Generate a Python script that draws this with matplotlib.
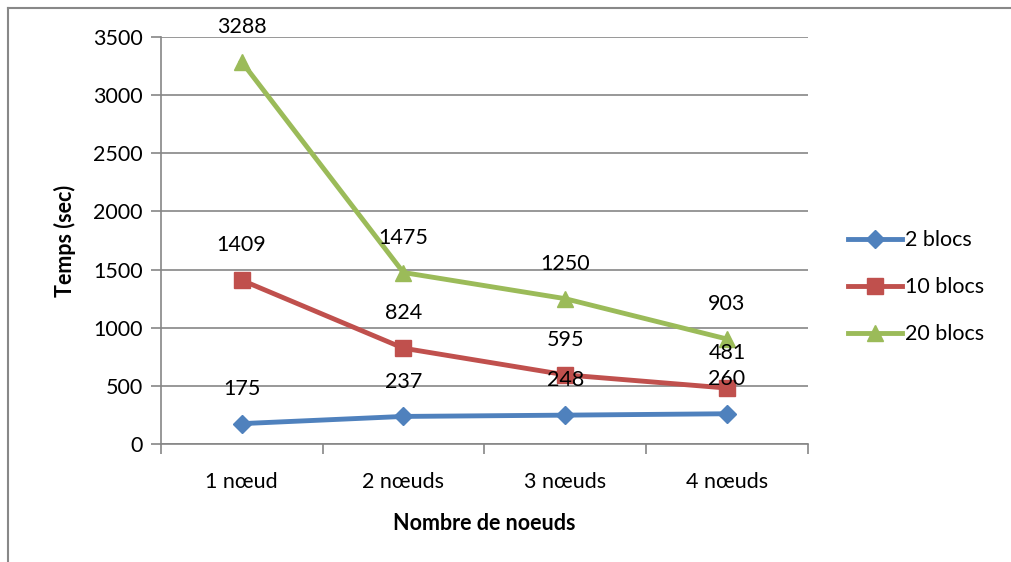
import matplotlib.pyplot as plt
from matplotlib.lines import Line2D
import numpy as np

plt.rcParams['font.family'] = ['Lato', 'DejaVu Sans']

# temps d'execution par nombre de noeuds
noeuds = ['1 nœud', '2 nœuds', '3 nœuds', '4 nœuds']
blocs_2 = [175, 237, 248, 260]
blocs_10 = [1409, 824, 595, 481]
blocs_20 = [3288, 1475, 1250, 903]
series = ['2 blocs', '10 blocs', '20 blocs']

colors = ['#4F81BD', '#C0504D', '#9BBB59']
markers = ['D', 's', '^']
msizes = [9, 11, 11]
fs = 15.5

fig = plt.figure(figsize=(10.11, 5.62), dpi=100)
ax = fig.add_axes([0.159, 0.210, 0.640, 0.724])

x = np.arange(len(noeuds))
for vals, lab, c, m, ms in zip([blocs_2, blocs_10, blocs_20], series, colors, markers, msizes):
    ax.plot(x, vals, color=c, lw=3.5, marker=m, markersize=ms, label=lab, zorder=3)
    for xi, v in zip(x, vals):
        ax.annotate(str(v), (xi, v), xytext=(0, 25), textcoords='offset points',
                    ha='center', va='center', fontsize=fs, zorder=4)

ax.set_xlim(-0.5, len(noeuds) - 0.5)
ax.set_ylim(0, 3500)
ax.set_yticks(np.arange(0, 3501, 500))
ax.set_xticks(x)
ax.set_xticklabels(noeuds)
ax.set_xticks(np.arange(-0.5, len(noeuds)), minor=True)
ax.tick_params(axis='x', which='major', length=0, pad=20, labelsize=fs)
ax.tick_params(axis='x', which='minor', length=7, width=1.2, color='#868686', direction='out')
ax.tick_params(axis='y', length=7, width=1.2, color='#868686', direction='out', labelsize=fs, pad=6)

ax.grid(axis='y', color='#868686', lw=1.2, zorder=0)
for s in ['top', 'right']:
    ax.spines[s].set_visible(False)
for s in ['left', 'bottom']:
    ax.spines[s].set_color('#868686')
    ax.spines[s].set_linewidth(1.2)

ax.set_xlabel('Nombre de noeuds', fontsize=fs, fontweight='bold', labelpad=15)
ax.set_ylabel('Temps (sec)', fontsize=fs, fontweight='bold', labelpad=12)

handles = [Line2D([], [], color=c, lw=3.5, marker=m, markersize=ms)
           for c, m, ms in zip(colors, markers, msizes)]
fig.legend(handles, series, loc='center left', bbox_to_anchor=(0.839, 0.489),
           frameon=False, fontsize=fs, handlelength=2.5, labelspacing=1.25,
           handletextpad=0.15, borderpad=0, borderaxespad=0)

# cadre du graphique
fig.add_artist(Line2D([0.008, 0.008], [0, 0.986], transform=fig.transFigure, color='#888888', lw=1.5))
fig.add_artist(Line2D([0.008, 1.0], [0.986, 0.986], transform=fig.transFigure, color='#888888', lw=1.5))

fig.savefig('out.png', dpi=100)
